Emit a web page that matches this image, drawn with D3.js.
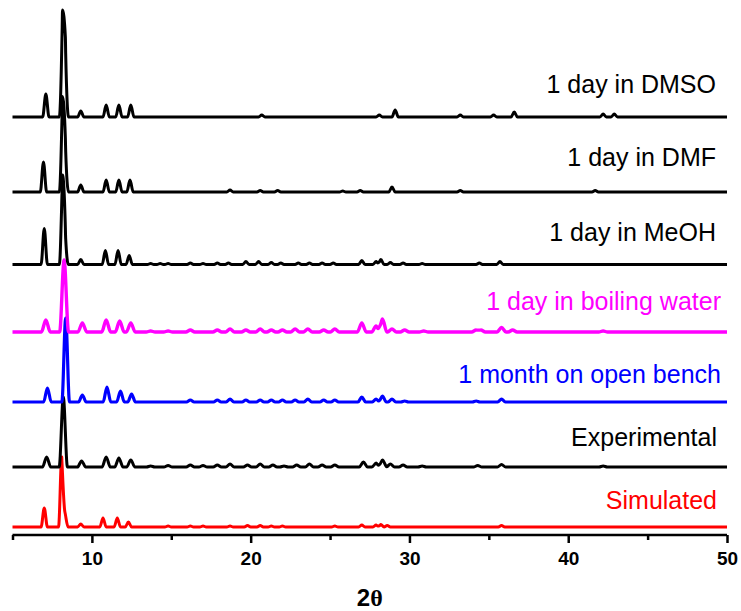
<!DOCTYPE html>
<html>
<head>
<meta charset="utf-8">
<script src="https://cdn.jsdelivr.net/npm/d3@7"></script>
<style>
  body { margin: 0; background: #fff; }
  svg { display: block; font-family: "Liberation Sans", Arial, sans-serif; }
  .axis path, .axis line { stroke: #000; stroke-width: 2.5; }
  .axis text { font-weight: bold; font-size: 19px; fill: #000; }
</style>
</head>
<body>
<div id="chart"></div>
<script>
// --- data: peak tables [2theta, intensity (a.u.)]
var simulated = [[7.0, 38], [8.1, 140], [8.3, 30], [9.3, 6], [10.7, 18], [11.6, 18], [12.3, 10],
  [14.8, 2], [16.2, 2], [17.0, 2], [18.7, 2], [19.8, 3], [20.6, 3], [21.3, 2], [22.0, 2], [25.3, 2],
  [27.0, 4], [27.9, 4], [28.2, 5], [28.6, 3], [35.8, 3]];
var experimental = [[7.15, 20], [8.2, 140], [9.35, 12], [10.9, 20], [11.7, 18], [12.45, 14],
  [13.7, 2], [14.8, 3], [16.2, 4], [17.0, 3], [17.9, 4], [18.7, 6], [19.8, 4], [20.6, 6], [21.4, 4],
  [22.1, 2], [22.9, 4], [23.7, 6], [24.5, 4], [25.3, 4], [27.1, 10], [27.9, 8], [28.3, 14], [28.8, 6],
  [29.6, 4], [30.8, 2], [34.3, 3], [35.8, 5], [42.2, 2]];
var bench = [[7.2, 28], [8.35, 168], [9.4, 14], [10.95, 30], [11.8, 22], [12.5, 16],
  [16.2, 4], [17.9, 4], [18.7, 6], [19.7, 4], [20.6, 4], [21.3, 4], [22.0, 4], [22.8, 4], [23.6, 6],
  [24.6, 4], [25.3, 4], [27.0, 10], [27.9, 6], [28.3, 12], [28.9, 6], [29.7, 2], [34.2, 2], [35.8, 6]];
var boiling = [[7.1, 24], [8.25, 144], [9.4, 18], [10.9, 24], [11.75, 22], [12.45, 18],
  [13.7, 2], [14.8, 2], [16.2, 4], [17.9, 4], [18.7, 6], [19.7, 4], [20.6, 6], [21.3, 4], [22.0, 4],
  [22.8, 6], [23.6, 6], [24.6, 4], [25.3, 6], [27.0, 18], [27.9, 12], [28.3, 26], [28.9, 6], [29.7, 4],
  [30.9, 2], [34.2, 4], [34.5, 4], [35.8, 9], [36.5, 4], [42.2, 2]];
var meoh = [[7.0, 72], [8.15, 170], [8.32, 60], [9.3, 10], [10.85, 28], [11.65, 28], [12.35, 18],
  [13.7, 2], [14.3, 2], [14.8, 2], [16.2, 3], [17.0, 2], [17.9, 3], [18.6, 3], [19.7, 6], [20.5, 6],
  [21.3, 4], [21.9, 3], [23.0, 3], [23.7, 3], [24.5, 3], [25.2, 3], [27.0, 8], [27.9, 6], [28.2, 10],
  [28.8, 4], [29.6, 3], [30.8, 2], [34.4, 3], [35.7, 6]];
var dmf = [[6.95, 60], [8.15, 182], [8.33, 90], [9.3, 14], [10.9, 24], [11.7, 24], [12.4, 24],
  [18.7, 4], [20.6, 3], [21.7, 3], [25.8, 2], [26.9, 3], [28.9, 10], [33.2, 3], [41.7, 3]];
var dmso = [[7.1, 46], [8.15, 200], [8.33, 140], [9.3, 12], [10.9, 24], [11.7, 24], [12.45, 24],
  [20.7, 4], [28.1, 4], [29.1, 14], [33.2, 4], [35.3, 4], [36.6, 10], [42.2, 6], [42.9, 6]];

// vertical offsets of the stacked patterns (a.u.)
var offsets = [0, 120, 250, 390, 525, 670, 820];
var labels = ["Simulated", "Experimental", "1 month on open bench", "1 day in boiling water",
  "1 day in MeOH", "1 day in DMF", "1 day in DMSO"];
var majorTicks = [10, 20, 30, 40, 50];
var minorTicks = [5, 15, 25, 35, 45];

var patterns = [simulated, experimental, bench, boiling, meoh, dmf, dmso];
var colors = ["#ff0000", "#000000", "#0000ff", "#ff00ff", "#000000", "#000000", "#000000"];
var halfWidth = [0.2, 0.26, 0.24, 0.28, 0.2, 0.2, 0.2];
var strokes = [3, 3, 3.2, 3.4, 3, 3, 3];
var labelX = [717, 717, 721, 721, 716, 716, 716];
var labelY = [509, 446, 383, 310, 241, 166, 93];

var width = 741, height = 611;

var svg = d3.select("#chart").append("svg")
    .attr("width", width)
    .attr("height", height);

var x = d3.scaleLinear().domain([5, 50]).range([12.5, 727]);
var y = d3.scaleLinear().domain([-16, 1054]).range([535, 0]);

// build a piecewise-linear profile from a peak table (each peak drawn as a narrow triangle)
function profile(peaks, offset, hw) {
  var xs = [5, 50];
  peaks.forEach(function(p) { xs.push(p[0] - hw, p[0], p[0] + hw); });
  xs = Array.from(new Set(xs)).sort(function(a, b) { return a - b; });
  return xs.map(function(t) {
    var v = 0;
    peaks.forEach(function(p) {
      var k = 1 - Math.abs(t - p[0]) / hw;
      if (k > 0) v += p[1] * k;
    });
    return [t, v + offset];
  });
}

var line = d3.line()
    .x(function(d) { return x(d[0]); })
    .y(function(d) { return y(d[1]); })
    .curve(d3.curveMonotoneX);

patterns.forEach(function(peaks, i) {
  svg.append("path")
      .datum(profile(peaks, offsets[i], halfWidth[i]))
      .attr("fill", "none")
      .attr("stroke", colors[i])
      .attr("stroke-width", strokes[i])
      .attr("stroke-linejoin", "round")
      .attr("d", line);

  svg.append("text")
      .attr("x", labelX[i])
      .attr("y", labelY[i])
      .attr("text-anchor", "end")
      .attr("font-size", 25)
      .attr("fill", colors[i])
      .text(labels[i]);
});

//--- x axis
svg.append("g")
    .attr("class", "axis")
    .attr("transform", "translate(0," + y(-16) + ")")
    .call(d3.axisBottom(x).tickValues(majorTicks).tickSize(8).tickSizeOuter(0).tickPadding(9))
    .call(function(g) { g.select(".domain").attr("d", "M" + x(5) + ",0H" + x(50)); });

svg.append("g")
    .attr("class", "axis")
    .attr("transform", "translate(0," + y(-16) + ")")
    .call(d3.axisBottom(x).tickValues(minorTicks).tickSize(5).tickFormat(""))
    .call(function(g) { g.select(".domain").remove(); });

var title = svg.append("text")
    .attr("x", (x(5) + x(50)) / 2)
    .attr("y", 606)
    .attr("text-anchor", "middle")
    .attr("font-size", 24)
    .attr("font-weight", "bold");
title.append("tspan").text("2");
title.append("tspan").attr("font-family", "Liberation Serif").text("θ");
</script>
</body>
</html>
